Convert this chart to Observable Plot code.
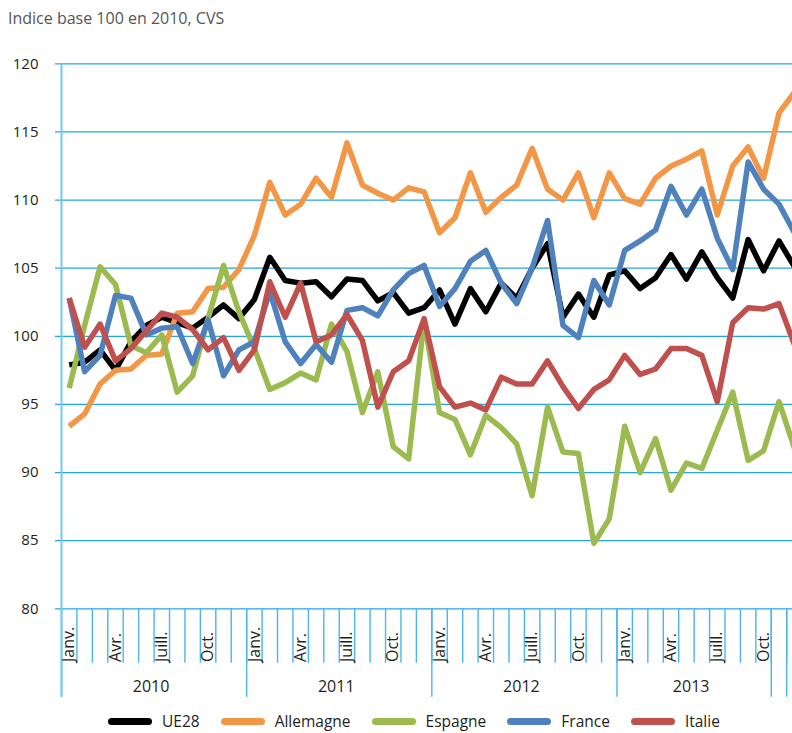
<!DOCTYPE html>
<html>
<head>
<meta charset="utf-8">
<script src="https://cdn.jsdelivr.net/npm/d3@7"></script>
<script src="https://cdn.jsdelivr.net/npm/@observablehq/plot@0.6"></script>
<style>
  html, body { margin: 0; padding: 0; background: #fff; overflow: hidden; }
  #wrap { position: relative; width: 792px; height: 733px; overflow: hidden; font-family: "Open Sans", sans-serif; }
  #title { position: absolute; left: 8px; top: 7px; font-size: 16px; color: #555; }
  #plot { position: absolute; left: 0; top: 40px; width: 792px; overflow: hidden; }
  #legend { position: absolute; left: 108px; top: 710px; display: flex; align-items: center; font-size: 15.5px; color: #231f20; }
  .item { display: flex; align-items: center; margin-right: 21px; }
  .sw { width: 44px; height: 7px; border-radius: 4px; margin-right: 10px; }
</style>
</head>
<body>
<div id="wrap">
  <div id="title">Indice base 100 en 2010, CVS</div>
  <div id="plot"></div>
  <div id="legend"></div>
</div>
<script>
// ---- Data (monthly, Jan 2010 .. Dec 2013) ----
const seriesNames = ["UE28", "Allemagne", "Espagne", "France", "Italie"];
const seriesColors = ["#000000", "#f39646", "#9bbb50", "#4f81bd", "#c0504d"];

const ue28 = [97.9, 98.1, 99.0, 97.5, 99.6, 100.8, 101.4, 101.0, 100.6, 101.4, 102.3, 101.3,
              102.7, 105.8, 104.1, 103.9, 104.0, 102.9, 104.2, 104.1, 102.6, 103.2, 101.7, 102.1,
              103.4, 100.9, 103.5, 101.8, 103.9, 102.8, 105.0, 106.8, 101.4, 103.1, 101.4, 104.5,
              104.8, 103.5, 104.3, 106.0, 104.2, 106.2, 104.3, 102.8, 107.1, 104.8, 107.0, 105.1];
const allemagne = [93.4, 94.3, 96.5, 97.5, 97.6, 98.6, 98.7, 101.7, 101.8, 103.5, 103.6, 104.9,
                   107.4, 111.3, 108.9, 109.7, 111.6, 110.2, 114.2, 111.1, 110.5, 110.0, 110.9, 110.6,
                   107.6, 108.7, 112.0, 109.1, 110.2, 111.1, 113.8, 110.8, 110.0, 112.0, 108.7, 112.0,
                   110.1, 109.7, 111.6, 112.5, 113.0, 113.6, 108.9, 112.5, 113.9, 111.6, 116.4, 117.9];
const espagne = [96.2, 100.8, 105.1, 103.8, 99.3, 98.8, 100.1, 95.9, 97.1, 101.3, 105.2, 101.8,
                 99.1, 96.1, 96.6, 97.3, 96.8, 100.9, 98.9, 94.4, 97.4, 91.9, 91.0, 101.2,
                 94.4, 93.9, 91.3, 94.2, 93.3, 92.1, 88.3, 94.8, 91.5, 91.4, 84.8, 86.6,
                 93.4, 90.0, 92.5, 88.7, 90.7, 90.3, 93.1, 95.9, 90.9, 91.6, 95.2, 91.8];
const france = [102.8, 97.4, 98.6, 103.0, 102.8, 100.1, 100.6, 100.7, 98.0, 101.2, 97.1, 99.0,
                99.6, 103.3, 99.6, 98.0, 99.4, 98.1, 101.9, 102.1, 101.5, 103.4, 104.6, 105.2,
                102.2, 103.5, 105.5, 106.3, 103.9, 102.4, 105.0, 108.5, 100.8, 99.9, 104.1, 102.3,
                106.3, 107.0, 107.8, 111.0, 108.9, 110.8, 107.2, 104.9, 112.8, 110.8, 109.7, 107.6];
const italie = [102.8, 99.2, 100.9, 98.2, 99.1, 100.4, 101.7, 101.4, 100.5, 99.0, 99.9, 97.5,
                99.0, 104.0, 101.4, 103.9, 99.6, 100.1, 101.6, 99.7, 94.8, 97.4, 98.2, 101.3,
                96.3, 94.8, 95.1, 94.6, 97.0, 96.5, 96.5, 98.2, 96.3, 94.7, 96.1, 96.8,
                98.6, 97.2, 97.6, 99.1, 99.1, 98.6, 95.2, 101.0, 102.1, 102.0, 102.4, 99.4];

const monthLabels = ["Janv.", "", "", "Avr.", "", "", "Juill.", "", "", "Oct.", "", ""];
const years = ["2010", "2011", "2012", "2013"];
const yearFirstMonth = [0, 12, 24, 36];
const yearLastLabelledMonth = [11, 23, 35, 45];
const yTicks = [80, 85, 90, 95, 100, 105, 110, 115, 120];
const nMonths = 48;

// ---- Build table ----
const allSeries = [ue28, allemagne, espagne, france, italie];
const rows = [];
allSeries.forEach((vals, k) => vals.forEach((v, i) => rows.push({s: seriesNames[k], i, v})));

const months = d3.range(nMonths).map(i => ({i, label: monthLabels[i % 12]})).filter(d => d.label);
const boundaries = d3.range(1, nMonths).map(i => i - 0.5);
const yearBounds = [...yearFirstMonth.map(i => i - 0.5), 45.5, 46.5];
const yearRows = years.map((y, k) => ({y, c: (yearFirstMonth[k] + yearLastLabelledMonth[k]) / 2}));

const gridBlue = "#23a5e0";
const axisBlue = "#74c8ef";
const tickBlue = "#4cb6e8";
const step = 15.43;

const chart = Plot.plot({
  width: 792,
  height: 670,
  marginTop: 0, marginRight: 0, marginBottom: 0, marginLeft: 0,
  style: {fontFamily: "Open Sans, sans-serif", color: "#231f20", background: "transparent"},
  x: {type: "linear", domain: [-0.5, nMonths - 0.5], range: [61, 61 + nMonths * step], axis: null},
  y: {domain: [80, 120], range: [568.3, 23.3], axis: null},
  color: {domain: seriesNames, range: seriesColors},
  marks: [
    Plot.ruleY(yTicks, {y: d => d, x1: -0.5 - 6 / step, x2: nMonths - 0.5, stroke: gridBlue, strokeWidth: 1.3}),
    Plot.ruleX(boundaries, {x: d => d, y1: 76, y2: 80, stroke: tickBlue, strokeWidth: 1.4}),
    Plot.ruleX(yearBounds, {x: d => d, y1: 73.5, y2: 80, stroke: tickBlue, strokeWidth: 1.4}),
    Plot.ruleX([-0.5], {x: d => d, y1: 73.5, y2: 120, stroke: axisBlue, strokeWidth: 2}),
    Plot.text(yTicks, {x: -0.5, y: d => d, text: d => String(d), textAnchor: "end", dx: -23, fontSize: 15}),
    Plot.text(months, {x: "i", y: 76.1, text: "label", rotate: -90, textAnchor: "start", fontSize: 16}),
    Plot.text(yearRows, {x: "c", y: 74.25, text: "y", fontSize: 16, dx: -3}),
    Plot.line(rows, {x: "i", y: "v", z: "s", stroke: "s", strokeWidth: 5.5, strokeLinejoin: "round", strokeLinecap: "butt"})
  ]
});
document.getElementById("plot").appendChild(chart);

// ---- Legend ----
const legend = document.getElementById("legend");
seriesNames.forEach((name, k) => {
  const item = document.createElement("div");
  item.className = "item";
  const sw = document.createElement("div");
  sw.className = "sw";
  sw.style.background = seriesColors[k];
  const t = document.createElement("span");
  t.textContent = name;
  item.appendChild(sw);
  item.appendChild(t);
  legend.appendChild(item);
});
</script>
</body>
</html>
